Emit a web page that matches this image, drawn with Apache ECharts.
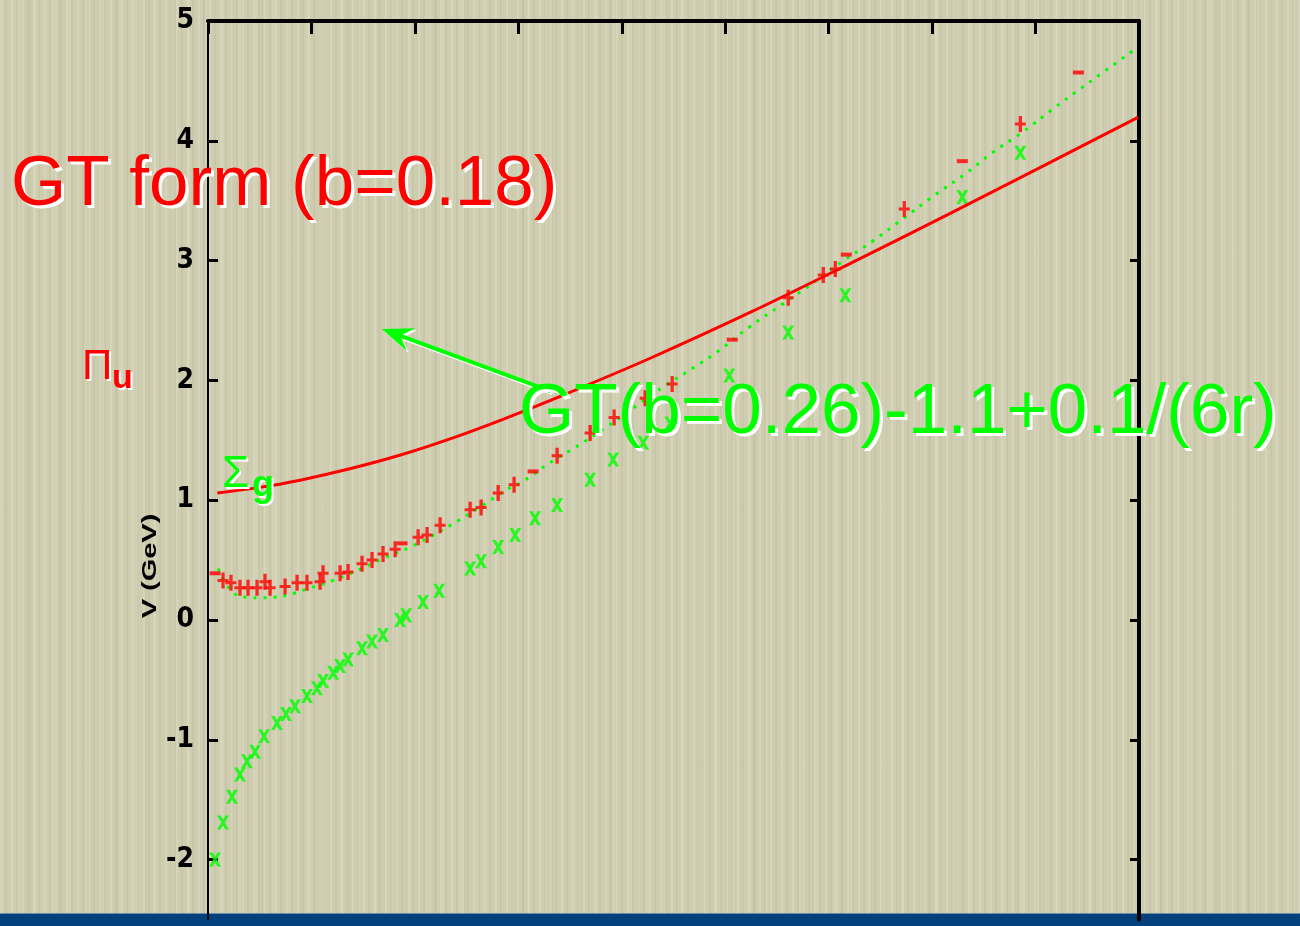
<!DOCTYPE html>
<html>
<head>
<meta charset="utf-8">
<title>V (GeV) — hybrid potentials</title>
<script src="https://cdn.jsdelivr.net/npm/echarts@6/dist/echarts.min.js"></script>
<style>
  html, body { margin: 0; padding: 0; width: 1300px; height: 926px; overflow: hidden; }
  #paper {
    position: absolute; left: 0; top: 0; width: 1300px; height: 926px;
    background-color: #cfcdb0;
    background-image:
      repeating-linear-gradient(90deg,
        rgba(255,255,245,0.14) 0px, rgba(255,255,245,0.14) 2px,
        rgba(0,0,0,0) 2px, rgba(0,0,0,0) 5px,
        rgba(95,90,55,0.06) 5px, rgba(95,90,55,0.06) 7px,
        rgba(0,0,0,0) 7px, rgba(0,0,0,0) 11px),
      repeating-linear-gradient(90deg,
        rgba(255,255,240,0.09) 0px, rgba(255,255,240,0.09) 3px,
        rgba(0,0,0,0) 3px, rgba(0,0,0,0) 17px),
      repeating-linear-gradient(90deg,
        rgba(110,105,70,0.05) 0px, rgba(110,105,70,0.05) 2px,
        rgba(0,0,0,0) 2px, rgba(0,0,0,0) 29px);
  }
  #band {
    position: absolute; left: 0; top: 913px; width: 1300px; height: 13px;
    background: #03407e; border-top: 1px solid #6d8aa6;
  }
  #chart { position: absolute; left: 0; top: 0; width: 1300px; height: 926px; }
</style>
</head>
<body>
<div id="paper"></div>
<div id="band"></div>
<div id="chart"></div>
<script>
// ---- axis settings (ticks fall on whole numbers) ----
const X_MIN = 0, X_MAX = 9, X_SPLITS = 9;
const Y_MIN = -2.5, Y_MAX = 5, Y_SPLITS = 8;
const yTickValues = [-2, -1, 0, 1, 2, 3, 4, 5];

// ---- GT form (b=0.18): solid red curve ----
const gtFormCurve = [
  [0.09, 1.060], [0.50, 1.107], [0.89, 1.167], [1.37, 1.262], [1.86, 1.377],
  [2.34, 1.512], [2.82, 1.665], [3.40, 1.865], [4.28, 2.187], [5.24, 2.567],
  [6.21, 2.977], [7.18, 3.397], [8.09, 3.797], [8.99, 4.196]
];

// ---- GT(b=0.26)-1.1+0.1/(6r): dotted green curve ----
const gtFitCurve = [
  [0.10, 0.43], [0.23, 0.24], [0.38, 0.19], [0.52, 0.185], [0.63, 0.19],
  [0.78, 0.21], [0.96, 0.26], [1.21, 0.33], [1.46, 0.42], [1.71, 0.52],
  [1.96, 0.61], [2.18, 0.71], [2.42, 0.83], [2.66, 0.96], [2.89, 1.09],
  [3.05, 1.16], [3.30, 1.31], [3.53, 1.43], [3.85, 1.61], [4.16, 1.80],
  [4.39, 1.94], [4.70, 2.11], [4.94, 2.25], [5.24, 2.45], [5.56, 2.64],
  [5.86, 2.82], [6.13, 2.99], [6.42, 3.16], [6.72, 3.35], [7.03, 3.55],
  [7.33, 3.73], [7.58, 3.90], [7.87, 4.07], [8.19, 4.28], [8.41, 4.42],
  [8.65, 4.57], [8.97, 4.77]
];

// ---- Π_u lattice points (red crosses) ----
const piUPoints = [
  [0.145, 0.33], [0.222, 0.31], [0.309, 0.27], [0.387, 0.27], [0.474, 0.27],
  [0.551, 0.32], [0.600, 0.27], [0.745, 0.28], [0.861, 0.31], [0.957, 0.31],
  [1.083, 0.32], [1.112, 0.39], [1.277, 0.39], [1.354, 0.40], [1.489, 0.47],
  [1.586, 0.50], [1.692, 0.55], [1.809, 0.59], [2.031, 0.69], [2.118, 0.71],
  [2.244, 0.79], [2.534, 0.92], [2.640, 0.94], [2.805, 1.06], [2.959, 1.13],
  [3.375, 1.37], [3.694, 1.56], [3.926, 1.69], [4.226, 1.85], [4.487, 1.97],
  [5.609, 2.69], [5.948, 2.88], [6.064, 2.93], [6.731, 3.43], [7.853, 4.14]
];
// Π_u points drawn as short dashes
const piUDashes = [
  [0.068, 0.39], [1.876, 0.64], [3.143, 1.24], [5.068, 2.34],
  [6.170, 3.05], [7.292, 3.83], [8.414, 4.57]
];

// ---- Σ_g lattice points (green x) ----
const sigmaGPoints = [
  [0.068, -2.00], [0.145, -1.69], [0.232, -1.475], [0.309, -1.29], [0.377, -1.18],
  [0.455, -1.10], [0.542, -0.97], [0.667, -0.86], [0.754, -0.785], [0.841, -0.72],
  [0.957, -0.635], [1.054, -0.57], [1.112, -0.51], [1.209, -0.44], [1.277, -0.385],
  [1.354, -0.33], [1.489, -0.235], [1.586, -0.18], [1.692, -0.125], [1.857, 0.00],
  [1.915, 0.04], [2.079, 0.15], [2.234, 0.245], [2.534, 0.43], [2.640, 0.49],
  [2.805, 0.61], [2.969, 0.71], [3.162, 0.85], [3.375, 0.96], [3.694, 1.17],
  [3.917, 1.34], [4.207, 1.48], [4.468, 1.64], [5.039, 2.04], [5.609, 2.40],
  [6.161, 2.71], [7.292, 3.53], [7.853, 3.90]
];

// ---- annotation arrow (data coordinates) ----
const arrowTail = [3.31, 1.91];
const arrowTip = [1.68, 2.43];

const RED = '#ff0000';
const GREEN = '#00ff00';
const PLUS_PATH = 'path://M3.5,0h3v16h-3zM0,6.5h10v3h-10z';
const CROSS_PATH = 'path://M0,0h3l7,10h-3zM7,0h3l-7,10h-3z';

const chart = echarts.init(document.getElementById('chart'), null, { renderer: 'canvas' });

const INK = '#000';
const option = {
  backgroundColor: 'transparent',
  animation: false,
  grid: { left: 208, top: 21, width: 931, height: 898.5 },
  xAxis: [
    {
      type: 'value', min: X_MIN, max: X_MAX, splitNumber: X_SPLITS, position: 'bottom',
      axisLine: { show: false },
      axisTick: { show: false }, axisLabel: { show: false }, splitLine: { show: false }
    },
    {
      type: 'value', min: X_MIN, max: X_MAX, splitNumber: X_SPLITS, position: 'top',
      axisLine: { show: true, onZero: false, lineStyle: { color: INK, width: 4 } },
      axisTick: { show: true, inside: true, length: 13, lineStyle: { color: INK, width: 3 } },
      axisLabel: { show: false }, splitLine: { show: false }
    }
  ],
  yAxis: [
    {
      type: 'value', min: Y_MIN, max: Y_MAX, splitNumber: Y_SPLITS, position: 'left',
      axisLine: { show: true, onZero: false, lineStyle: { color: INK, width: 2 } },
      axisTick: {
        show: true, inside: true, length: 10, lineStyle: { color: INK, width: 3 },
        customValues: yTickValues
      },
      axisLabel: {
        show: true, margin: 14, color: INK,
        fontFamily: '"Liberation Sans Narrow", "DejaVu Sans Condensed", sans-serif',
        fontWeight: 'bold', fontSize: 28,
        customValues: yTickValues,
        formatter: v => (yTickValues.indexOf(v) >= 0 ? String(v) : '')
      },
      splitLine: { show: false }
    },
    {
      type: 'value', min: Y_MIN, max: Y_MAX, splitNumber: Y_SPLITS, position: 'right',
      axisLine: { show: true, onZero: false, lineStyle: { color: INK, width: 4 } },
      axisTick: {
        show: true, inside: true, length: 9, lineStyle: { color: INK, width: 3 },
        customValues: yTickValues
      },
      axisLabel: { show: false }, splitLine: { show: false }
    }
  ],
  series: [
    {
      name: 'GT(b=0.26)-1.1+0.1/(6r)', type: 'line', data: gtFitCurve, smooth: true,
      showSymbol: false, z: 2,
      lineStyle: { color: GREEN, width: 3, type: [3, 7] }
    },
    {
      name: 'Σg', type: 'scatter', data: sigmaGPoints, z: 3,
      symbol: CROSS_PATH, symbolSize: [12, 14],
      itemStyle: { color: GREEN }
    },
    {
      name: 'Πu', type: 'scatter', data: piUPoints, z: 4,
      symbol: PLUS_PATH, symbolSize: [11, 16],
      itemStyle: { color: RED }
    },
    {
      name: 'Πu ', type: 'scatter', data: piUDashes, z: 4,
      symbol: 'rect', symbolSize: [11, 4],
      itemStyle: { color: RED }
    },
    {
      name: 'GT form (b=0.18)', type: 'line', data: gtFormCurve, smooth: 0.35,
      showSymbol: false, z: 5,
      lineStyle: { color: RED, width: 3 }
    }
  ]
};
chart.setOption(option);

// ---- annotations: texts with a white drop shadow, and the arrow ----
const SANS = '"Liberation Sans", Arial, sans-serif';
function shadowText(text, x, y, font, color, off) {
  const base = { text: text, font: font, textAlign: 'left', textVerticalAlign: 'middle' };
  return [
    { type: 'text', z: 100, silent: true,
      style: Object.assign({}, base, { x: x + off, y: y + off, fill: '#ffffff' }) },
    { type: 'text', z: 101, silent: true,
      style: Object.assign({}, base, { x: x, y: y, fill: color }) }
  ];
}

const tail = chart.convertToPixel({ xAxisIndex: 0, yAxisIndex: 0 }, arrowTail);
const tip = chart.convertToPixel({ xAxisIndex: 0, yAxisIndex: 0 }, arrowTip);
const dx = tail[0] - tip[0], dy = tail[1] - tip[1];
const len = Math.sqrt(dx * dx + dy * dy);
const ux = dx / len, uy = dy / len;       // along the shaft, tip -> tail
const vx = -uy, vy = ux;                   // perpendicular
function at(a, p) { return [tip[0] + ux * a + vx * p, tip[1] + uy * a + vy * p]; }
const head = [tip, at(31, -12), at(20, 0), at(31, 12)];
const shaftStart = at(18, 0);

function arrowParts(offset, color, z) {
  const sh = p => [p[0] + offset, p[1] + offset];
  return [
    { type: 'polyline', z: z, silent: true,
      shape: { points: [sh(tail), sh(shaftStart)] },
      style: { stroke: color, lineWidth: 4, fill: null } },
    { type: 'polygon', z: z, silent: true,
      shape: { points: head.map(sh) },
      style: { fill: color } }
  ];
}

const graphics = []
  .concat(arrowParts(2, '#ffffff', 98))
  .concat(arrowParts(0, GREEN, 99))
  .concat(shadowText('GT form (b=0.18)', 11, 185, '71px ' + SANS, RED, 3))
  .concat(shadowText('GT(b=0.26)-1.1+0.1/(6r)', 519, 413, '71px ' + SANS, GREEN, 3))
  .concat(shadowText('Π', 82, 367, '42px ' + SANS, RED, 2))
  .concat(shadowText('u', 112, 379, 'bold 34px ' + SANS, RED, 2))
  .concat(shadowText('Σ', 222, 475, '44px ' + SANS, GREEN, 2))
  .concat(shadowText('g', 252, 486, 'bold 36px ' + SANS, GREEN, 2));

// axis title, rotated along the left axis
graphics.push({
  type: 'text', z: 50, silent: true, x: 150, y: 566, rotation: Math.PI / 2, scaleX: 1.45,
  style: { text: 'V (GeV)', font: 'bold 20px ' + SANS, fill: INK,
           textAlign: 'center', textVerticalAlign: 'middle' }
});

chart.setOption({ graphic: graphics });
</script>
</body>
</html>
